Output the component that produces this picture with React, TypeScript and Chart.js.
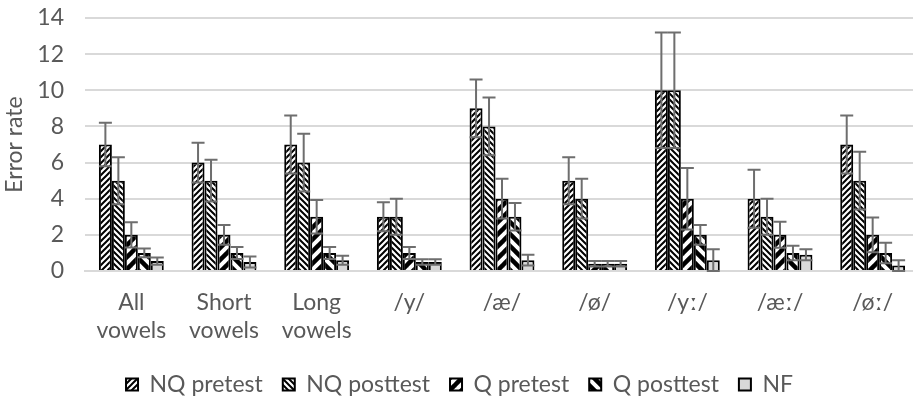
import React, { useEffect, useRef } from "react";
import { Chart, registerables } from "chart.js";

Chart.register(...registerables);

const categories: (string | string[])[] = [
  ["All", "vowels"],
  ["Short", "vowels"],
  ["Long", "vowels"],
  "/y/",
  "/æ/",
  "/ø/",
  "/yː/",
  "/æː/",
  "/øː/",
];

const seriesNames = ["NQ pretest", "NQ posttest", "Q pretest", "Q posttest", "NF"];

const nqPretest = [7, 6, 7, 3, 9, 5, 10, 4, 7];
const nqPosttest = [5, 5, 6, 3, 8, 4, 10, 3, 5];
const qPretest = [2, 2, 3, 1, 4, 0.4, 4, 2, 2];
const qPosttest = [1, 1, 1, 0.5, 3, 0.4, 2, 1, 1];
const nf = [0.55, 0.5, 0.6, 0.5, 0.6, 0.4, 0.6, 0.9, 0.3];

const nqPretestErr = [1.2, 1.1, 1.6, 0.8, 1.6, 1.3, 3.2, 1.6, 1.6];
const nqPosttestErr = [1.3, 1.15, 1.6, 1.0, 1.6, 1.1, 3.2, 1.0, 1.6];
const qPretestErr = [0.7, 0.55, 0.93, 0.33, 1.1, 0.15, 1.7, 0.72, 0.96];
const qPosttestErr = [0.24, 0.33, 0.33, 0.15, 0.76, 0.15, 0.55, 0.4, 0.57];
const nfErr = [0.2, 0.3, 0.25, 0.15, 0.3, 0.15, 0.6, 0.3, 0.3];

const yTicks = [0, 2, 4, 6, 8, 10, 12, 14];

const seriesValues = [nqPretest, nqPosttest, qPretest, qPosttest, nf];
const seriesErrors = [nqPretestErr, nqPosttestErr, qPretestErr, qPosttestErr, nfErr];

function diagPattern(size: number, width: number, up: boolean): CanvasPattern | string {
  const c = document.createElement("canvas");
  c.width = size;
  c.height = size;
  const g = c.getContext("2d");
  if (!g) return "#fff";
  g.fillStyle = "#ffffff";
  g.fillRect(0, 0, size, size);
  g.strokeStyle = "#000000";
  g.lineWidth = width;
  g.lineCap = "square";
  const offs = [-size, 0, size];
  for (const o of offs) {
    g.beginPath();
    if (up) {
      g.moveTo(o - 1, size + 1);
      g.lineTo(o + size + 1, -1);
    } else {
      g.moveTo(o - 1, -1);
      g.lineTo(o + size + 1, size + 1);
    }
    g.stroke();
  }
  const p = g.createPattern(c, "repeat");
  return p || "#fff";
}

const errorBarPlugin = {
  id: "errorBars",
  afterDatasetsDraw(chart: any) {
    const ctx = chart.ctx;
    const y = chart.scales.y;
    ctx.save();
    ctx.strokeStyle = "#6e6e6e";
    ctx.lineWidth = 2;
    chart.data.datasets.forEach((ds: any, i: number) => {
      const meta = chart.getDatasetMeta(i);
      meta.data.forEach((bar: any, j: number) => {
        const v = ds.data[j];
        const e = seriesErrors[i][j];
        const yt = y.getPixelForValue(v + e);
        const yb = y.getPixelForValue(Math.max(0, v - e));
        const x = bar.x;
        const hw = 6.5;
        ctx.beginPath();
        ctx.moveTo(x, yt);
        ctx.lineTo(x, yb);
        ctx.moveTo(x - hw, yt);
        ctx.lineTo(x + hw, yt);
        ctx.moveTo(x - hw, yb);
        ctx.lineTo(x + hw, yb);
        ctx.stroke();
      });
    });
    ctx.restore();
  },
};

export default function App() {
  const ref = useRef<HTMLCanvasElement | null>(null);

  useEffect(() => {
    document.body.style.overflow = "hidden";
    const canvas = ref.current;
    if (!canvas) return;
    const fills = [
      diagPattern(6, 2, true),
      diagPattern(6, 2, false),
      diagPattern(12, 4.5, true),
      diagPattern(12, 4.5, false),
      "#d9d9d9",
    ];
    const font = "Lato, 'Open Sans', sans-serif";
    const chart = new Chart(canvas, {
      type: "bar",
      data: {
        labels: categories,
        datasets: seriesNames.map((name, i) => ({
          label: name,
          data: seriesValues[i],
          backgroundColor: fills[i] as any,
          borderColor: "#000000",
          borderWidth: 2,
          categoryPercentage: 0.7,
          barPercentage: 1.0,
        })),
      },
      options: {
        animation: false,
        responsive: false,
        maintainAspectRatio: false,
        layout: { padding: { top: 18, right: 1, left: 0, bottom: 0 } },
        plugins: {
          tooltip: { enabled: false },
          legend: {
            position: "bottom",
            labels: {
              boxWidth: 12,
              boxHeight: 12,
              padding: 20,
              color: "#595959",
              font: { family: font, size: 23 },
            },
          },
        },
        scales: {
          x: {
            grid: { display: false, drawTicks: false },
            border: { display: true, color: "#d9d9d9", width: 2 },
            ticks: {
              color: "#595959",
              font: { family: font, size: 23 },
              padding: 18,
              maxRotation: 0,
              autoSkip: false,
            },
            afterFit: (scale: any) => {
              scale.height = 82;
            },
          },
          y: {
            min: 0,
            max: 14,
            afterBuildTicks: (scale: any) => {
              scale.ticks = yTicks.map((v) => ({ value: v }));
            },
            grid: { color: "#d9d9d9", lineWidth: 2, drawTicks: false },
            border: { display: false },
            ticks: {
              color: "#595959",
              font: { family: font, size: 23 },
              padding: 21,
            },
            title: {
              display: true,
              text: "Error rate",
              color: "#595959",
              font: { family: font, size: 23 },
              padding: { top: 1, bottom: 0 },
            },
            afterFit: (scale: any) => {
              scale.width = 85;
              scale.paddingTop = 0;
              scale.paddingBottom = 0;
            },
          },
        },
      },
      plugins: [errorBarPlugin],
    });
    return () => chart.destroy();
  }, []);

  return (
    <div style={{ position: "absolute", left: 0, top: 0, width: 920, height: 406 }}>
      <canvas ref={ref} width={920} height={406} style={{ width: 920, height: 406, display: "block" }} />
    </div>
  );
}
